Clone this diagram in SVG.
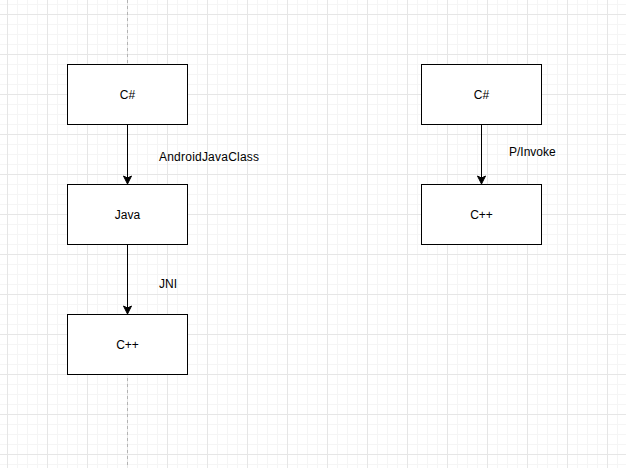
<svg xmlns="http://www.w3.org/2000/svg" width="626" height="468" viewBox="0 0 626 468">
<style>
.box{fill:#fff;stroke:#000;stroke-width:1}
.t{font-family:"Liberation Sans",Arial,sans-serif;font-size:12px;fill:#000}
.c{text-anchor:middle}
.edge{stroke:#000;stroke-width:1;fill:none}
.head{fill:#000;stroke:#000;stroke-width:1}
</style>
<defs>
<pattern id="grid" x="7" y="14" width="40" height="40" patternUnits="userSpaceOnUse">
<rect x="10" y="0" width="1" height="40" fill="#f5f5f5"/>
<rect x="20" y="0" width="1" height="40" fill="#f5f5f5"/>
<rect x="30" y="0" width="1" height="40" fill="#f5f5f5"/>
<rect x="0" y="10" width="40" height="1" fill="#f5f5f5"/>
<rect x="0" y="20" width="40" height="1" fill="#f5f5f5"/>
<rect x="0" y="30" width="40" height="1" fill="#f5f5f5"/>
<rect x="0" y="0" width="1" height="40" fill="#e6e6e6"/>
<rect x="0" y="0" width="40" height="1" fill="#e6e6e6"/>
</pattern>
</defs>
<rect width="626" height="468" fill="#fff"/>
<rect width="626" height="468" fill="url(#grid)"/>
<line x1="127.5" y1="0" x2="127.5" y2="468" stroke="#b3b3b3" stroke-dasharray="3 3"/>
<g id="connectors">
<line class="edge" x1="127.5" y1="124.5" x2="127.5" y2="178"/>
<path class="head" d="M127.5 184 L123.5 176 L127.5 178 L131.5 176 Z"/>
<line class="edge" x1="127.5" y1="244.5" x2="127.5" y2="308"/>
<path class="head" d="M127.5 314 L123.5 306 L127.5 308 L131.5 306 Z"/>
<line class="edge" x1="481.5" y1="124.5" x2="481.5" y2="178"/>
<path class="head" d="M481.5 184 L477.5 176 L481.5 178 L485.5 176 Z"/>
<text class="t" x="159" y="161" textLength="100" lengthAdjust="spacing">AndroidJavaClass</text>
<text class="t" x="159" y="288">JNI</text>
<text class="t" x="509" y="156">P/Invoke</text>
</g>
<g id="csharp-left">
<rect class="box" x="67.5" y="64.5" width="120" height="60"/>
<text class="t c" x="127.5" y="99">C#</text>
</g>
<g id="java">
<rect class="box" x="67.5" y="184.5" width="120" height="60"/>
<text class="t c" x="127.5" y="219">Java</text>
</g>
<g id="cpp-left">
<rect class="box" x="67.5" y="314.5" width="120" height="60"/>
<text class="t c" x="127.5" y="349">C++</text>
</g>
<g id="csharp-right">
<rect class="box" x="421.5" y="64.5" width="120" height="60"/>
<text class="t c" x="481.5" y="99">C#</text>
</g>
<g id="cpp-right">
<rect class="box" x="421.5" y="184.5" width="120" height="60"/>
<text class="t c" x="481.5" y="219">C++</text>
</g>
</svg>
